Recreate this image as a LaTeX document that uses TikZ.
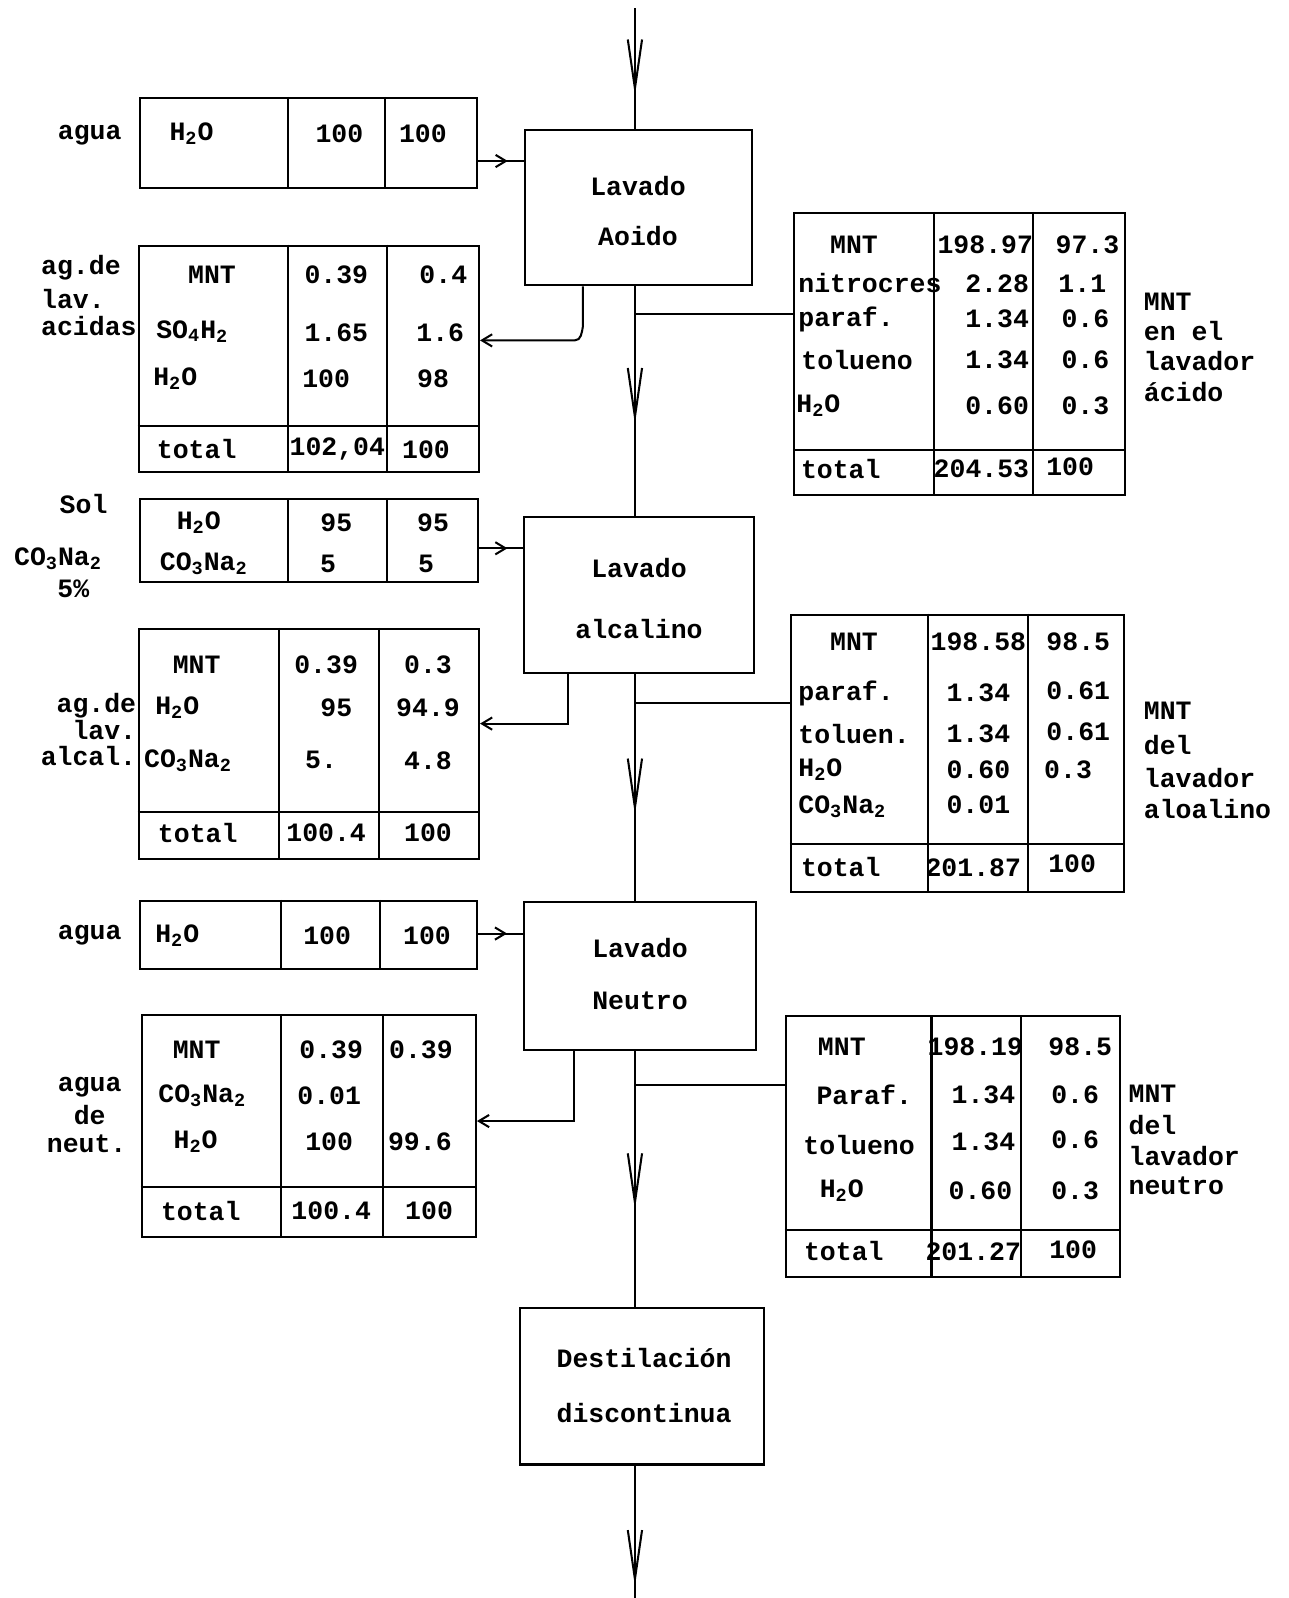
\documentclass[tikz,border=0pt]{standalone}
\usepackage{fontspec}
\setmainfont{Liberation Mono}
\usetikzlibrary{arrows.meta,decorations.markings,fit}
\newcommand{\sbs}[1]{\textsubscript{#1}}
\tikzset{
  every node/.style={font=\fontsize{13}{14}\selectfont\bfseries, inner sep=0pt},
  proc/.style={draw, line width=1pt, inner sep=0pt},
  tbl/.style={draw, line width=1pt, inner sep=0pt},
  rule/.style={line width=1pt},
  flow/.style={line width=1pt, decoration={markings, mark=at position #1 with {\arrow{Straight Barb[length=24pt,width=7pt]}}}, postaction={decorate}},
  flow/.default=0.5,
  inarrow/.style={line width=1pt, decoration={markings, mark=at position #1 with {\arrow{Straight Barb[length=5pt,width=6pt]}}}, postaction={decorate}},
  inarrow/.default=0.65,
  outarrow/.style={line width=1pt, -{Straight Barb[length=5pt,width=6pt]}},
  lft/.style={anchor=west},
  rgt/.style={anchor=east}
}
\begin{document}
\begin{tikzpicture}[x=0.5pt,y=-0.5pt]
\useasboundingbox[fill=white] (0,0) rectangle (1264,1568);

% ---------- process boxes ----------
\node[proc, fit={(515,128) (738,280)}] (acido) {};
\node (acidoA) at (626,183) {Lavado};
\node (acidoB) at (626,232) {Aoido};
\node[proc, fit={(514,507) (740,660)}] (alcal) {};
\node (alcalA) at (627,557) {Lavado};
\node (alcalB) at (627,617) {alcalino};
\node[proc, fit={(514,885) (742,1030)}] (neutro) {};
\node (neutroA) at (628,930) {Lavado};
\node (neutroB) at (628,982) {Neutro};
\node[proc, fit={(510,1283) (750,1437)}] (destil) {};
\node (destilA) at (632,1333) {Destilación};
\node (destilB) at (632,1386) {discontinua};

% ---------- main flow ----------
\coordinate (top) at (623,8);
\coordinate (bot) at (623,1568);
\draw[flow=0.72] (top) -- (top |- acido.north);
\draw[flow=0.60] (top |- acido.south) -- (top |- alcal.north);
\draw[flow=0.62] (top |- alcal.south) -- (top |- neutro.north);
\draw[flow=0.62] (top |- neutro.south) -- (top |- destil.north);
\draw[flow=0.91] (top |- destil.south) -- (bot);

% ---------- left tables ----------
% T1 agua
\node[tbl, fit={(137,96) (468,184)}] (t1) {};
\draw[rule] (t1.north -| 283,0) -- (t1.south -| 283,0);
\draw[rule] (t1.north -| 378,0) -- (t1.south -| 378,0);
\node[lft] (t1a) at (166,131) {H\sbs{2}O};
\node (t1b) at (333,131) {100};
\node (t1c) at (415,131) {100};
\node (l1) at (88,133) {agua};

% T2 aguas de lavado acidas
\node[tbl, fit={(136,241) (470,463)}] (t2) {};
\draw[rule] (t2.north -| 283,0) -- (t2.south -| 283,0);
\draw[rule] (t2.north -| 380,0) -- (t2.south -| 380,0);
\draw[rule] (t2.west |- 0,418) -- (t2.east |- 0,418);
\node (t2a1) at (208,270) {MNT};
\node[lft] (t2a2) at (153,325) {SO\sbs{4}H\sbs{2}};
\node[lft] (t2a3) at (150,372) {H\sbs{2}O};
\node (t2b1) at (330,270) {0.39};
\node (t2b2) at (330,327) {1.65};
\node (t2b3) at (320,372) {100};
\node (t2c1) at (435,270) {0.4};
\node (t2c2) at (432,327) {1.6};
\node (t2c3) at (425,372) {98};
\node (t2a4) at (193,441) {total};
\node (t2b4) at (331,441) {102,04};
\node (t2c4) at (418,441) {100};
\node[lft] (l2a) at (40,263) {ag.de};
\node[lft] (l2b) at (40,293) {lav.};
\node[lft] (l2c) at (40,320) {acidas};

% T3 sol CO3Na2
\node[tbl, fit={(137,490) (469,571)}] (t3) {};
\draw[rule] (t3.north -| 283,0) -- (t3.south -| 283,0);
\draw[rule] (t3.north -| 380,0) -- (t3.south -| 380,0);
\node (t3a1) at (195,513) {H\sbs{2}O};
\node (t3a2) at (200,553) {CO\sbs{3}Na\sbs{2}};
\node (t3b1) at (330,513) {95};
\node (t3b2) at (322,553) {5};
\node (t3c1) at (425,513) {95};
\node (t3c2) at (418,553) {5};
\node (l3a) at (82,495) {Sol};
\node (l3b) at (57,548) {CO\sbs{3}Na\sbs{2}};
\node (l3c) at (72,578) {5\%};

% T4 aguas de lavado alcalinas
\node[tbl, fit={(136,617) (470,843)}] (t4) {};
\draw[rule] (t4.north -| 274,0) -- (t4.south -| 274,0);
\draw[rule] (t4.north -| 372,0) -- (t4.south -| 372,0);
\draw[rule] (t4.west |- 0,797) -- (t4.east |- 0,797);
\node (t4a1) at (193,652) {MNT};
\node[lft] (t4a2) at (152,694) {H\sbs{2}O};
\node[lft] (t4a3) at (141,746) {CO\sbs{3}Na\sbs{2}};
\node (t4b1) at (320,652) {0.39};
\node (t4b2) at (330,694) {95};
\node (t4b3) at (315,746) {5.};
\node (t4c1) at (420,652) {0.3};
\node (t4c2) at (420,694) {94.9};
\node (t4c3) at (420,746) {4.8};
\node (t4a4) at (194,817) {total};
\node (t4b4) at (320,817) {100.4};
\node (t4c4) at (420,817) {100};
\node[rgt] (l4a) at (134,692) {ag.de};
\node[rgt] (l4b) at (134,716) {lav.};
\node[rgt] (l4c) at (134,742) {alcal.};

% T5 agua
\node[tbl, fit={(137,884) (468,951)}] (t5) {};
\draw[rule] (t5.north -| 276,0) -- (t5.south -| 276,0);
\draw[rule] (t5.north -| 373,0) -- (t5.south -| 373,0);
\node[lft] (t5a) at (152,918) {H\sbs{2}O};
\node (t5b) at (321,918) {100};
\node (t5c) at (419,918) {100};
\node (l5) at (88,918) {agua};

% T6 agua de neutralizacion
\node[tbl, fit={(139,996) (467,1214)}] (t6) {};
\draw[rule] (t6.north -| 276,0) -- (t6.south -| 276,0);
\draw[rule] (t6.north -| 376,0) -- (t6.south -| 376,0);
\draw[rule] (t6.west |- 0,1165) -- (t6.east |- 0,1165);
\node (t6a1) at (193,1030) {MNT};
\node[lft] (t6a2) at (155,1075) {CO\sbs{3}Na\sbs{2}};
\node[lft] (t6a3) at (170,1120) {H\sbs{2}O};
\node (t6b1) at (325,1030) {0.39};
\node (t6b2) at (323,1075) {0.01};
\node (t6b3) at (323,1120) {100};
\node (t6c1) at (413,1030) {0.39};
\node (t6c3) at (412,1120) {99.6};
\node (t6a4) at (197,1188) {total};
\node (t6b4) at (325,1188) {100.4};
\node (t6c4) at (421,1188) {100};
\node (l6a) at (88,1067) {agua};
\node (l6b) at (88,1094) {de};
\node (l6c) at (85,1122) {neut.};

% ---------- right tables ----------
% R1
\node[tbl, fit={(779,209) (1104,486)}] (r1) {};
\draw[rule] (r1.north -| 916,0) -- (r1.south -| 916,0);
\draw[rule] (r1.north -| 1014,0) -- (r1.south -| 1014,0);
\draw[rule] (r1.west |- 0,442) -- (r1.east |- 0,442);
\node (r1a1) at (838,240) {MNT};
\node[lft] (r1a2) at (783,278) {nitrocres};
\node[lft] (r1a3) at (783,313) {paraf.};
\node[lft] (r1a4) at (786,353) {tolueno};
\node[lft] (r1a5) at (781,398) {H\sbs{2}O};
\node[rgt] (r1b1) at (1014,240) {198.97};
\node[rgt] (r1b2) at (1010,278) {2.28};
\node[rgt] (r1b3) at (1010,313) {1.34};
\node[rgt] (r1b4) at (1010,353) {1.34};
\node[rgt] (r1b5) at (1010,398) {0.60};
\node (r1c1) at (1067,240) {97.3};
\node (r1c2) at (1062,278) {1.1};
\node (r1c3) at (1065,313) {0.6};
\node (r1c4) at (1065,353) {0.6};
\node (r1c5) at (1065,398) {0.3};
\node (r1a6) at (825,460) {total};
\node (r1b6) at (963,460) {204.53};
\node (r1c6) at (1050,458) {100};
\node[lft] (m1a) at (1122,296) {MNT};
\node[lft] (m1b) at (1122,325) {en el};
\node[lft] (m1c) at (1122,354) {lavador};
\node[lft] (m1d) at (1122,385) {ácido};

% R2
\node[tbl, fit={(776,603) (1103,875)}] (r2) {};
\draw[rule] (r2.north -| 911,0) -- (r2.south -| 911,0);
\draw[rule] (r2.north -| 1009,0) -- (r2.south -| 1009,0);
\draw[rule] (r2.west |- 0,828) -- (r2.east |- 0,828);
\node (r2a1) at (838,630) {MNT};
\node[lft] (r2a2) at (783,680) {paraf.};
\node[lft] (r2a3) at (783,720) {toluen.};
\node[lft] (r2a4) at (783,755) {H\sbs{2}O};
\node[lft] (r2a5) at (783,792) {CO\sbs{3}Na\sbs{2}};
\node (r2b1) at (960,630) {198.58};
\node (r2b2) at (960,680) {1.34};
\node (r2b3) at (960,720) {1.34};
\node (r2b4) at (960,755) {0.60};
\node (r2b5) at (960,790) {0.01};
\node (r2c1) at (1058,630) {98.5};
\node (r2c2) at (1058,678) {0.61};
\node (r2c3) at (1058,718) {0.61};
\node (r2c4) at (1048,755) {0.3};
\node (r2a6) at (825,851) {total};
\node (r2b6) at (955,851) {201.87};
\node (r2c6) at (1052,848) {100};
\node[lft] (m2a) at (1122,697) {MNT};
\node[lft] (m2b) at (1122,731) {del};
\node[lft] (m2c) at (1122,763) {lavador};
\node[lft] (m2d) at (1122,794) {aloalino};

% R3
\node[tbl, fit={(771,997) (1099,1253)}] (r3) {};
\draw[rule] (r3.north -| 914,0) -- (r3.south -| 914,0);
\draw[rule] (r3.north -| 1002,0) -- (r3.south -| 1002,0);
\draw[rule] (r3.west |- 0,1207) -- (r3.east |- 0,1207);
\node (r3a1) at (826,1027) {MNT};
\node (r3a2) at (848,1074) {Paraf.};
\node (r3a3) at (843,1124) {tolueno};
\node (r3a4) at (826,1168) {H\sbs{2}O};
\node (r3b1) at (957,1027) {198.19};
\node (r3b2) at (965,1074) {1.34};
\node (r3b3) at (965,1120) {1.34};
\node (r3b4) at (962,1168) {0.60};
\node (r3c1) at (1060,1027) {98.5};
\node (r3c2) at (1055,1074) {0.6};
\node (r3c3) at (1055,1118) {0.6};
\node (r3c4) at (1055,1168) {0.3};
\node (r3a6) at (828,1228) {total};
\node (r3b6) at (955,1228) {201.27};
\node (r3c6) at (1053,1226) {100};
\node[lft] (m3a) at (1107,1073) {MNT};
\node[lft] (m3b) at (1107,1104) {del};
\node[lft] (m3c) at (1107,1134) {lavador};
\node[lft] (m3d) at (1107,1164) {neutro};

% ---------- connectors ----------
% inputs
\draw[inarrow] (t1.east |- 0,158) -- (acido.west |- 0,158);
\draw[inarrow] (t3.east |- 0,538) -- (alcal.west |- 0,538);
\draw[inarrow] (t5.east |- 0,916) -- (neutro.west |- 0,916);
% left outputs
\draw[outarrow] (acido.south -| 572,0) -- (572,320) to[out=-100,in=0] (564,334) -- (t2.east |- 0,334);
\draw[outarrow] (alcal.south -| 557,0) |- (t4.east |- 0,710);
\draw[outarrow] (neutro.south -| 563,0) |- (t6.east |- 0,1100);
% right branches
\draw[rule] (top |- 0,308) -- (r1.west |- 0,308);
\draw[rule] (top |- 0,690) -- (r2.west |- 0,690);
\draw[rule] (top |- 0,1065) -- (r3.west |- 0,1065);
\end{tikzpicture}
\end{document}
